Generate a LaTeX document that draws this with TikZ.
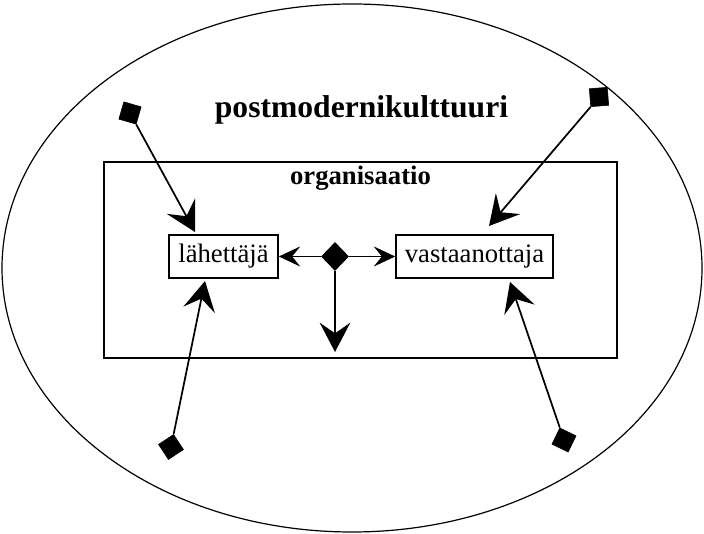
\documentclass[tikz,border=0pt]{standalone}
\usepackage{fontspec}
\setmainfont{Liberation Serif}
\usetikzlibrary{arrows.meta,shapes.geometric}
\begin{document}
\begin{tikzpicture}[x=0.75pt,y=-0.75pt,
  box/.style={draw,line width=1.2pt,inner sep=0pt,minimum height=32.25pt,font=\fontsize{20}{24}\selectfont},
  sq/.style={fill,draw,inner sep=0pt,minimum size=13.5pt},
  diag/.style={line width=1.3pt,-{Stealth[length=22pt,width=24pt,inset=8.5pt]}},
  harr/.style={line width=1.3pt,-{Stealth[length=16pt,width=15pt,inset=6pt]}},
  varr/.style={line width=1.3pt,-{Stealth[length=22pt,width=23pt,inset=8pt]}}]
\useasboundingbox (0,0) rectangle (704,534);
\draw[line width=0.9pt] (352,268) ellipse [x radius=350, y radius=264];
\node[font=\bfseries\fontsize{23.7}{28}\selectfont,anchor=base] (title) at (361.5,118) {postmodernikulttuuri};
\node[draw,line width=1.6pt,minimum width=384.75pt,minimum height=147pt,inner sep=0pt] (org) at (360.5,260) {};
\node[font=\bfseries\fontsize{20}{24}\selectfont,anchor=base] (orgt) at (360.5,185) {organisaatio};
\node[box,minimum width=81.75pt] (lah) at (223.5,256.5) {lähettäjä};
\node[box,minimum width=117.75pt] (vas) at (474.5,256.5) {vastaanottaja};
\node[diamond,fill,inner sep=0pt,minimum width=21pt,minimum height=21.75pt] (dia) at (335,256.5) {};
\coordinate (down) at (335,352);
\draw[harr] (dia.west) -- (lah.east);
\draw[harr] (dia.east) -- (vas.west);
\draw[varr] (dia.south) -- (down);
\node[sq,rotate=-16] (s1) at (130,113) {};
\node[sq,rotate=4.5] (s2) at (599,97) {};
\node[sq,rotate=33.4] (s3) at (171,447) {};
\node[sq,rotate=-26] (s4) at (564,440) {};
\coordinate (t1) at (195,232);
\coordinate (t2) at (489,226);
\coordinate (t3) at (205,281);
\coordinate (t4) at (510,282);
\draw[diag] (s1) -- (t1);
\draw[diag] (s2) -- (t2);
\draw[diag] (s3) -- (t3);
\draw[diag] (s4) -- (t4);
\end{tikzpicture}
\end{document}
